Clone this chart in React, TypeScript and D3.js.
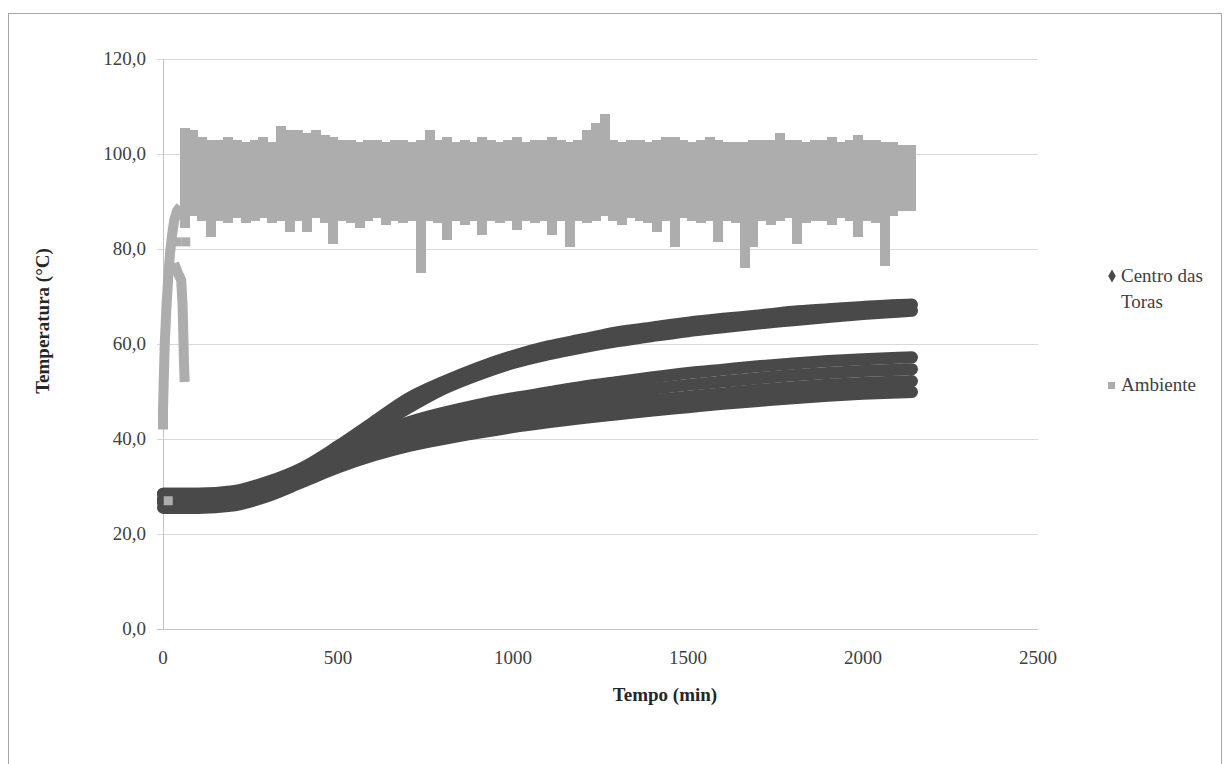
import { useEffect, useRef } from "react"
import * as d3 from "d3"

// Centro das Toras: thermocouple readings (°C) at these times (min)
const centroTimes = [0, 100, 200, 300, 400, 500, 600, 700, 800, 900, 1000, 1100, 1200, 1300, 1400, 1500, 1600, 1700, 1800, 1900, 2000, 2100, 2140]
const centroA1 = [28.5, 28.5, 29, 31, 34, 38.5, 43.5, 48.5, 52, 55, 57.5, 59.5, 61, 62.5, 63.5, 64.5, 65.3, 66, 66.8, 67.3, 67.8, 68.2, 68.3]
const centroA2 = [27, 27, 27.5, 29.5, 32.5, 37, 42, 46.5, 50.5, 53.5, 56, 57.8, 59.3, 60.6, 61.7, 62.7, 63.5, 64.3, 65, 65.7, 66.3, 66.8, 67]
const centroB = [28.5, 28.5, 28.5, 30.5, 33.5, 37.5, 41, 43.5, 45.5, 47.2, 48.6, 49.8, 51, 52, 53, 53.9, 54.6, 55.3, 55.9, 56.4, 56.8, 57.1, 57.2]
const centroC = [27.5, 27.5, 27.8, 29.8, 32.5, 36.3, 39.5, 42, 43.8, 45.3, 46.6, 47.7, 48.7, 49.7, 50.6, 51.4, 52.1, 52.8, 53.4, 53.9, 54.3, 54.6, 54.7]
const centroD = [26.5, 26.5, 27, 29, 31.8, 35, 38, 40.2, 41.9, 43.4, 44.6, 45.6, 46.5, 47.4, 48.2, 48.9, 49.6, 50.3, 50.9, 51.4, 51.8, 52.1, 52.2]
const centroE = [25.5, 25.5, 26, 28, 31, 34, 36.5, 38.5, 40, 41.3, 42.5, 43.5, 44.4, 45.2, 46, 46.7, 47.4, 48, 48.6, 49.1, 49.5, 49.8, 49.9]

// Ambiente: warm-up ramp and an early drop
const rampTimes = [0, 0, 2, 5, 10, 15, 20, 26, 32, 40, 50]
const rampValues = [42, 46, 52, 60, 68, 74, 79, 83, 86, 88, 89]
const dropTimes = [32, 42, 52, 56, 58, 60, 62]
const dropValues = [77, 75, 73.5, 68, 62, 56, 52]
const extraTimes = [15, 40, 65]
const extraValues = [27, 81.5, 81.5]

// Ambiente: oscillation range (max / min) in each 25 min window
const ambTimes = [60, 85, 110, 135, 160, 185, 210, 235, 260, 285, 310, 335, 360, 385, 410, 435, 460, 485, 510, 535, 560, 585, 610, 635, 660, 685, 710, 735, 760, 785, 810, 835, 860, 885, 910, 935, 960, 985, 1010, 1035, 1060, 1085, 1110, 1135, 1160, 1185, 1210, 1235, 1260, 1285, 1310, 1335, 1360, 1385, 1410, 1435, 1460, 1485, 1510, 1535, 1560, 1585, 1610, 1635, 1660, 1685, 1710, 1735, 1760, 1785, 1810, 1835, 1860, 1885, 1910, 1935, 1960, 1985, 2010, 2035, 2060, 2085, 2110, 2135]
const ambHigh = [105.5, 105, 103.5, 103, 103, 103.5, 103, 102.5, 103, 103.5, 102.5, 106, 105, 105, 104.5, 105, 104, 103.5, 103, 103, 102.5, 103, 103, 102.5, 103, 103, 102.5, 103, 105, 103, 103.5, 102.5, 103, 102.5, 103.5, 103, 102.5, 103, 103.5, 102.5, 103, 103, 103.5, 103, 102.5, 103, 105, 106.5, 108.5, 103, 102.5, 103, 103, 102.5, 103, 103.5, 103.5, 103, 102.5, 103, 103.5, 103, 102.5, 102.5, 102.5, 103, 103, 103, 104.5, 103, 103, 102.5, 103, 103, 103.5, 102.5, 103, 104, 103, 103, 102.5, 102.5, 102, 102]
const ambLow = [84.5, 87, 86, 82.5, 86, 85.5, 86.5, 85.5, 86, 86.5, 85.5, 86, 83.5, 86, 83.5, 86.5, 85.5, 81, 86, 85.5, 84.5, 86, 86.5, 85, 86, 85.5, 86, 75, 86, 85.5, 82, 86, 85, 86, 83, 86, 85.5, 86, 84, 86, 85.5, 86, 83, 86, 80.5, 86, 85.5, 86, 87, 86, 85, 86.5, 86, 85.5, 83.5, 86, 80.5, 86.5, 86, 85.5, 86, 81.5, 86, 85.5, 76, 80.5, 86, 85, 86, 86.5, 81, 85.5, 86, 86, 85, 86.5, 86, 82.5, 86, 85.5, 76.5, 87, 88, 88]

const xTicks = [0, 500, 1000, 1500, 2000, 2500]
const yTicks = [0, 20, 40, 60, 80, 100, 120]

const DARK = "#494949"
const LIGHT = "#adadad"
const FONT = "'Liberation Serif', 'Times New Roman', Times, 'DejaVu Serif', serif"

export default function App() {
  const svgRef = useRef<SVGSVGElement>(null)

  useEffect(() => {
    if (!svgRef.current) return
    const svg = d3.select(svgRef.current)
    svg.selectAll("*").remove()

    const x = d3.scaleLinear().domain([0, 2500]).range([163, 1038])
    const y = d3.scaleLinear().domain([0, 120]).range([629, 59])
    const fmt = (v: number) => d3.format(".1f")(v).replace(".", ",")

    // chart frame
    svg
      .append("rect")
      .attr("x", 8.5)
      .attr("y", 13.5)
      .attr("width", 1213)
      .attr("height", 800)
      .attr("fill", "#fff")
      .attr("stroke", "#a6a6a6")

    // grid lines
    svg
      .append("g")
      .selectAll("line")
      .data(yTicks)
      .enter()
      .append("line")
      .attr("x1", x(0) - 6)
      .attr("x2", x(2500))
      .attr("y1", (d) => Math.round(y(d)) + 0.5)
      .attr("y2", (d) => Math.round(y(d)) + 0.5)
      .attr("stroke", (d) => (d === 0 ? "#c4c4c4" : "#d9d9d9"))

    svg
      .append("line")
      .attr("x1", x(0) + 0.5)
      .attr("x2", x(0) + 0.5)
      .attr("y1", y(120))
      .attr("y2", y(0))
      .attr("stroke", "#c4c4c4")

    const text = svg.append("g").style("font-family", FONT)

    // y tick labels
    text
      .append("g")
      .selectAll("text")
      .data(yTicks)
      .enter()
      .append("text")
      .attr("x", 146)
      .attr("y", (d) => y(d) + 6)
      .attr("text-anchor", "end")
      .attr("font-size", 19)
      .attr("fill", "#404040")
      .text((d) => fmt(d))

    // x tick labels
    text
      .append("g")
      .selectAll("text")
      .data(xTicks)
      .enter()
      .append("text")
      .attr("x", (d) => x(d))
      .attr("y", 664)
      .attr("text-anchor", "middle")
      .attr("font-size", 19)
      .attr("fill", "#404040")
      .text((d) => String(d))

    // axis titles
    text
      .append("text")
      .attr("x", 665)
      .attr("y", 701)
      .attr("text-anchor", "middle")
      .attr("font-size", 19)
      .attr("font-weight", "bold")
      .attr("fill", "#262626")
      .text("Tempo (min)")

    text
      .append("text")
      .attr("transform", "translate(49,321) rotate(-90)")
      .attr("text-anchor", "middle")
      .attr("font-size", 19)
      .attr("font-weight", "bold")
      .attr("fill", "#262626")
      .text("Temperatura (°C)")

    // Centro das Toras
    const centroSeries = [centroA1, centroA2, centroB, centroC, centroD, centroE]
    const line = d3
      .line<number>()
      .x((_, i) => x(centroTimes[i]))
      .y((d) => y(d))
      .curve(d3.curveMonotoneX)

    svg
      .append("g")
      .selectAll("path")
      .data(centroSeries)
      .enter()
      .append("path")
      .attr("d", (d) => line(d))
      .attr("fill", "none")
      .attr("stroke", DARK)
      .attr("stroke-width", 12)
      .attr("stroke-linecap", "round")
      .attr("stroke-linejoin", "round")

    // Ambiente
    const amb = svg.append("g")
    const half = 12.5
    amb
      .selectAll("rect.range")
      .data(ambTimes)
      .enter()
      .append("rect")
      .attr("class", "range")
      .attr("x", (d) => x(d - half))
      .attr("width", (d) => x(d + half) - x(d - half) + 1.2)
      .attr("y", (_, i) => y(ambHigh[i]))
      .attr("height", (_, i) => y(ambLow[i]) - y(ambHigh[i]))
      .attr("fill", LIGHT)
      .attr("shape-rendering", "crispEdges")

    const ambLine = (ts: number[]) =>
      d3
        .line<number>()
        .x((_, i) => x(ts[i]))
        .y((d) => y(d))

    amb
      .append("path")
      .attr("d", ambLine(rampTimes)(rampValues))
      .attr("fill", "none")
      .attr("stroke", LIGHT)
      .attr("stroke-width", 10)
      .attr("stroke-linejoin", "round")

    amb
      .append("path")
      .attr("d", ambLine(dropTimes)(dropValues))
      .attr("fill", "none")
      .attr("stroke", LIGHT)
      .attr("stroke-width", 10)
      .attr("stroke-linejoin", "round")

    amb
      .selectAll("rect.pt")
      .data(extraTimes)
      .enter()
      .append("rect")
      .attr("class", "pt")
      .attr("x", (d) => x(d) - 4.5)
      .attr("y", (_, i) => y(extraValues[i]) - 4.5)
      .attr("width", 9)
      .attr("height", 9)
      .attr("fill", LIGHT)

    // legend
    const lg = text.append("g").attr("font-size", 19).attr("fill", "#404040")
    lg.append("path")
      .attr("d", d3.symbol(d3.symbolDiamond, 50)())
      .attr("transform", "translate(1112,276)")
      .attr("fill", DARK)
    lg.append("text").attr("x", 1121).attr("y", 282).text("Centro das")
    lg.append("text").attr("x", 1121).attr("y", 308).text("Toras")
    lg.append("rect").attr("x", 1108).attr("y", 382).attr("width", 7).attr("height", 7).attr("fill", LIGHT)
    lg.append("text").attr("x", 1121).attr("y", 391).text("Ambiente")
  }, [])

  return (
    <svg
      ref={svgRef}
      width={1230}
      height={764}
      style={{ position: "absolute", left: 0, top: 0, background: "#fff" }}
    />
  )
}
